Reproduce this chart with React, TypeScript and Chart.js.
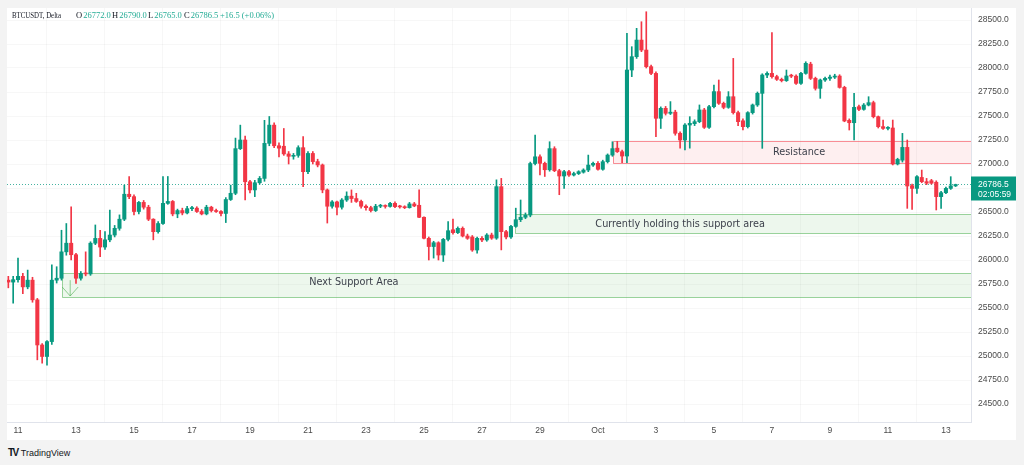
import React, { useEffect, useRef } from "react";
import { Chart, registerables } from "chart.js";

Chart.register(...registerables);

// 4-hour candles; index 0 = Sep 11 00:00, first candle = Sep 10 16:00
const FIRST_INDEX = -2;

const opens = [
  25790, 25770, 25795, 25830, 25720, 25790, 25585, 25115, 24995, 25150,
  25790, 25810, 26085, 26175, 26055, 25810, 25860, 25855, 26175, 26225,
  26135, 26210, 26260, 26330, 26425, 26685, 26660, 26505, 26600, 26550,
  26425, 26295, 26380, 26590, 26610, 26480, 26515, 26490, 26535, 26540,
  26505, 26480, 26550, 26515, 26505, 26485, 26630, 26695, 27160, 27250,
  26815, 26730, 26805, 26850, 27215, 27405, 27190, 27185, 27105, 27080,
  27090, 27170, 26920, 27110, 27025, 26990, 26730, 26560, 26605, 26550,
  26625, 26665, 26640, 26610, 26560, 26545, 26515, 26560, 26563, 26558,
  26590, 26556, 26553, 26545, 26584, 26570, 26445, 26226, 26140, 26180,
  26052, 26215, 26315, 26285, 26330, 26250, 26240, 26104, 26226, 26209,
  26260, 26228, 26764, 26295, 26240, 26350, 26420, 26445, 26468, 27005,
  27075, 27007, 26940, 27160, 26930, 26875, 26920, 26885, 26900, 26915,
  26937, 26989, 27007, 26945, 27024, 27093, 27165, 27128, 27083, 27979,
  28118, 28291, 28187, 28014, 27944, 27476, 27580, 27528, 27540, 27320,
  27250, 27406, 27420, 27441, 27563, 27382, 27597, 27754, 27632, 27590,
  27701, 27535, 27450, 27389, 27535, 27615, 27736, 27927, 27944, 27910,
  27882, 27868, 27917, 27915, 27840, 27944, 28040, 27892, 27788, 27875,
  27892, 27905, 27916, 27798, 27455, 27430, 27597, 27569, 27614, 27639,
  27493, 27389, 27371, 27375, 27000, 27040, 27173, 26775, 26746, 26860,
  26816, 26826, 26810, 26660, 26701, 26746, 26772,
];

const highs = [
  25830, 25830, 26020, 25860, 25895, 25820, 25600, 25130, 25160, 25950,
  25930, 26310, 26380, 26555, 26070, 25880, 26085, 26190, 26365, 26310,
  26295, 26520, 26360, 26470, 26780, 26870, 26680, 26610, 26620, 26570,
  26430, 26400, 26870, 26870, 26620, 26530, 26540, 26560, 26560, 26555,
  26525, 26570, 26560, 26530, 26515, 26650, 26780, 27270, 27405, 27290,
  26830, 26830, 26870, 27455, 27495, 27430, 27220, 27370, 27130, 27110,
  27190, 27285, 27130, 27130, 27050, 27000, 26740, 26620, 26615, 26640,
  26710, 26730, 26695, 26625, 26575, 26560, 26580, 26580, 26575, 26600,
  26605, 26570, 26565, 26600, 26600, 26730, 26450, 26240, 26195, 26190,
  26225, 26400, 26425, 26345, 26345, 26270, 26255, 26240, 26245, 26275,
  26280, 26835, 26850, 26310, 26360, 26540, 26625, 26490, 27020, 27300,
  27095, 27020, 27232, 27180, 26945, 26935, 26935, 26915, 26930, 26950,
  27093, 27020, 27025, 27040, 27105, 27232, 27235, 27145, 28361, 28222,
  28413, 28482, 28586, 28030, 27960, 27595, 27600, 27650, 27560, 27335,
  27420, 27493, 27460, 27615, 27580, 27610, 27823, 27875, 27645, 27754,
  28100, 27550, 27470, 27545, 27625, 27750, 27940, 27960, 28368, 27925,
  27895, 27979, 27935, 27930, 27955, 28065, 28060, 27905, 27885, 27905,
  27925, 27935, 27930, 27810, 27470, 27736, 27615, 27630, 27701, 27655,
  27500, 27458, 27390, 27458, 27060, 27319, 27250, 26790, 26880, 26937,
  26850, 26840, 26825, 26715, 26760, 26868, 26790,
];

const lows = [
  25710, 25550, 25770, 25650, 25700, 25560, 24960, 24925, 24905, 25120,
  25760, 25790, 26050, 26000, 25755, 25790, 25835, 25840, 26160, 26035,
  26110, 26190, 26240, 26310, 26410, 26640, 26470, 26480, 26530, 26410,
  26210, 26280, 26370, 26580, 26460, 26440, 26470, 26480, 26515, 26495,
  26470, 26470, 26500, 26495, 26460, 26390, 26620, 26680, 27150, 26625,
  26700, 26660, 26790, 26820, 27190, 27170, 27075, 27090, 27000, 27050,
  27070, 26765, 26900, 27000, 26970, 26700, 26385, 26540, 26470, 26530,
  26610, 26600, 26600, 26540, 26520, 26500, 26505, 26545, 26540, 26550,
  26545, 26540, 26535, 26540, 26555, 26440, 26220, 26000, 26020, 26000,
  25985, 26200, 26270, 26275, 26240, 26215, 26090, 26070, 26190, 26195,
  26215, 26215, 26105, 26220, 26225, 26340, 26400, 26430, 26450, 26990,
  26885, 26870, 26925, 26920, 26680, 26745, 26870, 26875, 26890, 26905,
  26920, 26975, 26935, 26935, 27010, 27080, 27120, 27014, 27014, 27910,
  28100, 28170, 28000, 27930, 27285, 27370, 27510, 27515, 27300, 27165,
  27146, 27165, 27400, 27430, 27370, 27370, 27585, 27620, 27575, 27580,
  27520, 27400, 27354, 27375, 27520, 27600, 27163, 27900, 27895, 27870,
  27855, 27860, 27900, 27830, 27830, 27935, 27880, 27770, 27684, 27860,
  27870, 27890, 27790, 27440, 27354, 27250, 27555, 27560, 27605, 27480,
  27375, 27360, 27355, 26990, 26990, 27020, 26538, 26528, 26694, 26805,
  26785, 26790, 26521, 26538, 26690, 26735, 26765,
];

const closes = [
  25770, 25795, 25830, 25720, 25790, 25585, 25115, 24995, 25150, 25790,
  25810, 26085, 26175, 26055, 25810, 25860, 25855, 26175, 26225, 26135,
  26210, 26260, 26330, 26425, 26685, 26660, 26505, 26600, 26550, 26425,
  26295, 26380, 26590, 26610, 26480, 26515, 26490, 26535, 26540, 26505,
  26480, 26550, 26515, 26505, 26485, 26630, 26695, 27160, 27250, 26815,
  26730, 26805, 26850, 27215, 27405, 27190, 27165, 27105, 27080, 27090,
  27170, 26920, 27110, 27025, 26990, 26730, 26560, 26605, 26550, 26625,
  26665, 26640, 26610, 26560, 26545, 26515, 26560, 26563, 26558, 26590,
  26556, 26553, 26545, 26584, 26563, 26445, 26226, 26140, 26180, 26052,
  26215, 26305, 26285, 26330, 26250, 26226, 26104, 26226, 26209, 26260,
  26228, 26764, 26295, 26240, 26350, 26420, 26445, 26468, 27005, 27075,
  27007, 26940, 27160, 26930, 26875, 26920, 26885, 26900, 26920, 26937,
  26989, 27007, 26945, 27024, 27093, 27160, 27128, 27083, 27979, 28118,
  28291, 28187, 28014, 27944, 27476, 27580, 27528, 27540, 27320, 27250,
  27406, 27424, 27441, 27563, 27382, 27597, 27754, 27632, 27590, 27701,
  27535, 27441, 27389, 27535, 27615, 27736, 27927, 27944, 27910, 27882,
  27868, 27917, 27915, 27840, 27944, 28049, 27892, 27788, 27875, 27892,
  27905, 27916, 27798, 27448, 27430, 27590, 27569, 27614, 27639, 27493,
  27389, 27371, 27375, 27000, 27048, 27173, 26771, 26746, 26868, 26816,
  26800, 26800, 26660, 26701, 26746, 26772, 26786.5,
];

// x-axis labels, one every 2 days (12 candles)
const dayTickLabels = ["11", "13", "15", "17", "19", "21", "23", "25", "27", "29", "Oct", "3", "5", "7", "9", "11", "13"];
const CANDLES_PER_TICK = 12;

// price-axis ticks
const priceTicks = [24500, 24750, 25000, 25250, 25500, 25750, 26000, 26250, 26500, 26750, 27000, 27250, 27500, 27750, 28000, 28250, 28500];

// zones (start candle index, top price, bottom price)
const resistanceZone = { from: 123.1, top: 27243, bottom: 27014, label: "Resistance", labelAt: 161.6, labelPrice: 27125 };
const currentSupportZone = { from: 102.8, top: 26479, bottom: 26281, label: "Currently holding this support area", labelAt: 137, labelPrice: 26375 };
const nextSupportZone = { from: 9.1, top: 25861, bottom: 25618, label: "Next Support Area", labelAt: 69.5, labelPrice: 25771 };

// header quote
const headerSymbol = "BTCUSDT, Delta";
const headerOHLC = [
  ["O", "26772.0"],
  ["H", "26790.0"],
  ["L", "26765.0"],
  ["C", "26786.5"],
];
const headerChange = "+16.5 (+0.06%)";
const countdown = "02:05:59";

const GREEN = "#089981";
const RED = "#f23645";
const TEAL_TEXT = "#22ab94";

export default function App() {
  const ref = useRef<HTMLCanvasElement | null>(null);

  useEffect(() => {
    const canvas = ref.current;
    if (!canvas) return;
    const idx = opens.map((_, i) => i + FIRST_INDEX);
    const colors = opens.map((o, i) => (closes[i] >= o ? GREEN : RED));
    const lastClose = closes[closes.length - 1];

    const overlays = {
      id: "overlays",
      beforeDatasetsDraw(chart: any) {
        const { ctx, chartArea: a } = chart;
        const xs = chart.scales.x;
        const ys = chart.scales.y;
        ctx.save();
        ctx.beginPath();
        ctx.rect(a.left, a.top, a.right - a.left, a.bottom - a.top);
        ctx.clip();

        const drawZone = (z: any, fill: string, line: string) => {
          const x1 = Math.round(xs.getPixelForValue(z.from)) + 0.5;
          const x2 = a.right;
          const y1 = Math.round(ys.getPixelForValue(z.top)) + 0.5;
          const y2 = Math.round(ys.getPixelForValue(z.bottom)) + 0.5;
          ctx.fillStyle = fill;
          ctx.fillRect(x1, y1, x2 - x1, y2 - y1);
          ctx.strokeStyle = line;
          ctx.lineWidth = 1;
          ctx.beginPath();
          ctx.moveTo(x2, y1);
          ctx.lineTo(x1, y1);
          ctx.lineTo(x1, y2);
          ctx.lineTo(x2, y2);
          ctx.stroke();
          ctx.fillStyle = "#3b3f4a";
          ctx.font = "9.7px 'DejaVu Sans'";
          ctx.textAlign = "center";
          ctx.textBaseline = "middle";
          ctx.fillText(z.label, xs.getPixelForValue(z.labelAt), ys.getPixelForValue(z.labelPrice));
        };
        drawZone(resistanceZone, "rgba(242,54,69,0.08)", "rgba(242,54,69,0.55)");
        drawZone(currentSupportZone, "rgba(76,175,80,0.1)", "rgba(76,175,80,0.55)");
        drawZone(nextSupportZone, "rgba(76,175,80,0.1)", "rgba(76,175,80,0.55)");

        // small arrow into next support zone
        const ax = xs.getPixelForValue(10.8);
        const ayTop = ys.getPixelForValue(25790);
        const ayTip = ys.getPixelForValue(25625);
        ctx.strokeStyle = "rgba(76,175,80,0.6)";
        ctx.lineWidth = 1;
        ctx.beginPath();
        ctx.moveTo(ax, ayTop);
        ctx.lineTo(ax, ayTip);
        ctx.moveTo(ax - 8, ayTip - 9);
        ctx.lineTo(ax, ayTip);
        ctx.lineTo(ax + 8, ayTip - 9);
        ctx.stroke();

        // dotted last-price line
        const py = Math.round(ys.getPixelForValue(lastClose)) + 0.5;
        ctx.strokeStyle = "rgba(8,153,129,0.75)";
        ctx.setLineDash([1, 2]);
        ctx.beginPath();
        ctx.moveTo(a.left, py);
        ctx.lineTo(a.right, py);
        ctx.stroke();
        ctx.setLineDash([]);
        ctx.restore();
      },
      afterDraw(chart: any) {
        const { ctx, chartArea: a } = chart;
        const ys = chart.scales.y;
        ctx.save();
        // header
        ctx.textBaseline = "middle";
        ctx.textAlign = "left";
        ctx.font = "8.5px 'Liberation Serif'";
        const hy = 8;
        ctx.fillStyle = "#131722";
        ctx.fillText(headerSymbol, 5, hy, 49);
        const starts = [69, 105, 141, 177];
        headerOHLC.forEach(([k, v], i) => {
          ctx.fillStyle = "#131722";
          ctx.fillText(k, starts[i], hy);
          const w = ctx.measureText(k).width;
          ctx.fillStyle = TEAL_TEXT;
          ctx.fillText(v, starts[i] + w + 1, hy);
        });
        ctx.fillStyle = TEAL_TEXT;
        ctx.fillText(headerChange, 213, hy);

        // last price label on the axis
        const py = ys.getPixelForValue(lastClose);
        ctx.fillStyle = GREEN;
        ctx.fillRect(a.right, py - 8, chart.width - a.right, 24);
        ctx.fillStyle = "#ffffff";
        ctx.font = "8.5px 'Liberation Sans'";
        ctx.fillText(lastClose.toFixed(1), a.right + 7, py);
        ctx.fillText(countdown, a.right + 7, py + 10);
        ctx.restore();
      },
    };

    const chart = new Chart(canvas, {
      type: "bar",
      data: {
        datasets: [
          {
            label: "wick",
            data: idx.map((k, i) => ({ x: k, y: [lows[i], highs[i]] })) as any,
            backgroundColor: colors,
            barThickness: 1,
            grouped: false,
            order: 2,
          } as any,
          {
            label: "body",
            data: idx.map((k, i) => ({ x: k, y: [Math.min(opens[i], closes[i]), Math.max(opens[i], closes[i])] })) as any,
            backgroundColor: colors,
            barThickness: 3.4,
            minBarLength: 1,
            grouped: false,
            order: 1,
          } as any,
        ],
      },
      options: {
        animation: false,
        responsive: false,
        maintainAspectRatio: false,
        layout: { padding: 0 },
        plugins: { legend: { display: false }, tooltip: { enabled: false } },
        scales: {
          x: {
            type: "linear",
            min: -2.276,
            max: 197.19,
            offset: false,
            grid: { color: "rgba(42,46,57,0.04)", drawTicks: false },
            border: { display: true, color: "#e0e3eb" },
            ticks: {
              autoSkip: false,
              maxRotation: 0,
              padding: 4,
              color: "#4a4a4a",
              font: { family: "'Liberation Sans'", size: 8.5 },
              callback: (v: any) => {
                const n = Math.round(Number(v) / CANDLES_PER_TICK);
                return dayTickLabels[n] ?? "";
              },
            },
            afterBuildTicks: (s: any) => {
              s.ticks = dayTickLabels.map((_, n) => ({ value: n * CANDLES_PER_TICK }));
            },
            afterFit: (s: any) => {
              s.height = 18;
              s.paddingLeft = 0;
              s.paddingRight = 0;
            },
          } as any,
          y: {
            type: "linear",
            position: "right",
            min: 24312.5,
            max: 28625,
            grid: { color: "rgba(42,46,57,0.04)", drawTicks: false },
            border: { display: true, color: "#e0e3eb" },
            ticks: {
              padding: 7,
              color: "#4a4a4a",
              font: { family: "'Liberation Sans'", size: 8.5 },
              callback: (v: any) => Number(v).toFixed(1),
            },
            afterBuildTicks: (s: any) => {
              s.ticks = priceTicks.map((v) => ({ value: v }));
            },
            afterFit: (s: any) => {
              s.width = 45;
              s.paddingTop = 0;
              s.paddingBottom = 0;
            },
          } as any,
        },
      } as any,
      plugins: [overlays],
    });
    return () => chart.destroy();
  }, []);

  return (
    <div
      style={{
        position: "absolute",
        left: 0,
        top: 0,
        width: 1024,
        height: 465,
        background: "#f3f3f3",
        overflow: "hidden",
      }}
    >
      <canvas
        ref={ref}
        width={1009}
        height={432}
        style={{ position: "absolute", left: 7, top: 8, width: 1009, height: 432, background: "#ffffff" }}
      />
      <div
        style={{
          position: "absolute",
          left: 8,
          top: 447,
          display: "flex",
          alignItems: "center",
          gap: 3,
          fontFamily: "'Liberation Sans', sans-serif",
          color: "#131722",
        }}
      >
        <span style={{ fontWeight: 900, fontSize: 10, letterSpacing: -1.5, lineHeight: "12px" }}>TV</span>
        <span style={{ fontSize: 9, lineHeight: "12px" }}>TradingView</span>
      </div>
    </div>
  );
}
